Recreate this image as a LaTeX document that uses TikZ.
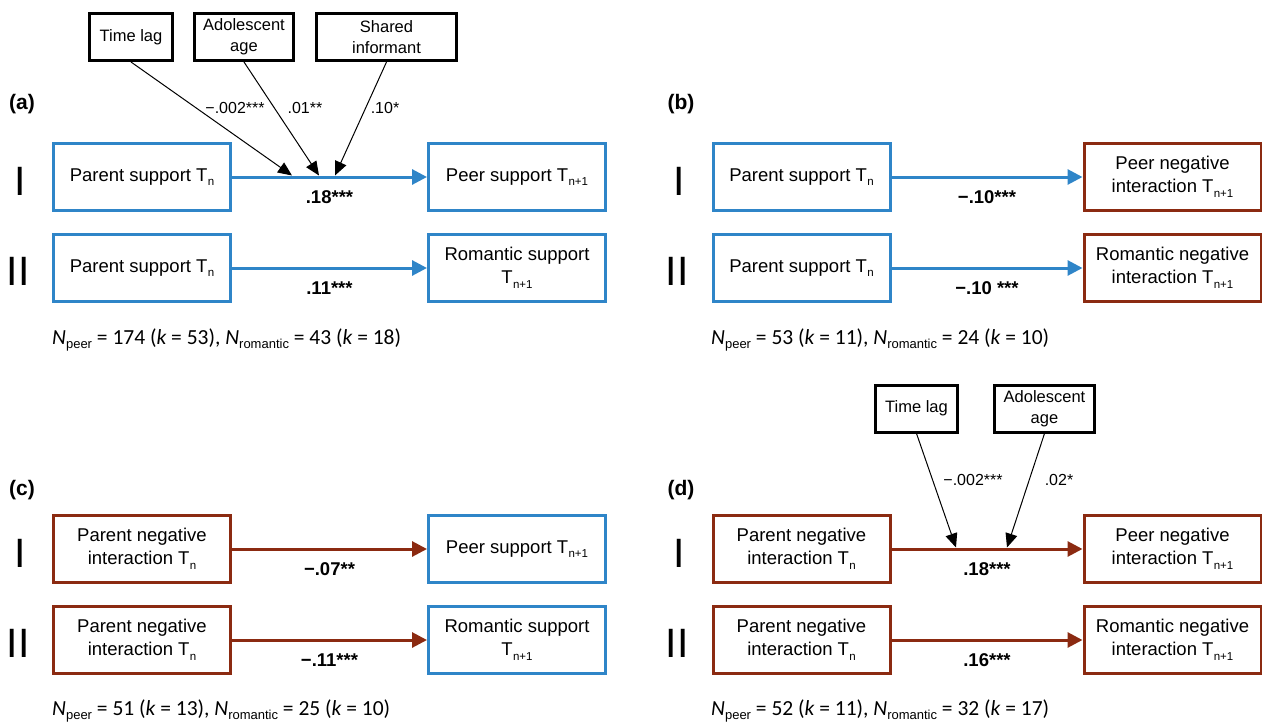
\documentclass[tikz,border=0pt]{standalone}
\usepackage{fontspec}
\setmainfont{Liberation Sans}
\newfontfamily\calfont{Carlito}
\usetikzlibrary{arrows.meta}
\definecolor{supblue}{RGB}{47,133,200}
\definecolor{negred}{RGB}{139,42,17}
\newcommand{\Tsub}[1]{T\kern0.3pt\raisebox{-4.5pt}{\fontsize{11.5}{11.5}\selectfont #1}}
\newcommand{\Nsub}[1]{{\itshape N}\raisebox{-4.5pt}{\rmfamily\fontsize{13}{13}\selectfont #1}}
\begin{document}
\begin{tikzpicture}[x=1pt,y=-1pt,
  box/.style={draw, line width=3pt, minimum width=177pt, minimum height=67pt, inner sep=0pt, align=center, font=\fontsize{18.5}{23}\selectfont},
  supbox/.style={box, draw=supblue},
  negbox/.style={box, draw=negred},
  modbox/.style={draw, line width=3pt, minimum height=47pt, inner sep=0pt, align=center, font=\fontsize{16.5}{21}\selectfont},
  suparrow/.style={draw=supblue, line width=3pt, -{Triangle[length=15pt,width=15pt]}},
  negarrow/.style={draw=negred, line width=3pt, -{Triangle[length=15pt,width=15pt]}},
  modarrow/.style={line width=1pt, -{Triangle[length=14pt,width=12pt]}},
  coef/.style={below=12pt, inner sep=0pt, font=\bfseries\fontsize{18.5}{20}\selectfont},
  modcoef/.style={inner sep=0pt, font=\fontsize{16}{18}\selectfont},
  panel/.style={inner sep=0pt, font=\bfseries\fontsize{21}{24}\selectfont},
  roman/.style={inner sep=0pt, font=\fontsize{41}{41}\selectfont},
  ntext/.style={anchor=west, inner sep=0pt, font=\calfont\fontsize{21.5}{24}\selectfont}]
\useasboundingbox (0,0) rectangle (1262,723);
\node[panel] (pa) at (22,104) {(a)};
\node[roman] (ia1) at (20,181) {I};
\node[roman] (ia2) at (18,271) {II};
\node[modbox, minimum width=83pt] (alag) at (131,37) {Time lag};
\node[modbox, minimum width=99pt] (aage) at (244,37) {Adolescent\\age};
\node[modbox, minimum width=140pt] (ainf) at (386.5,37) {Shared\\informant};
\node[supbox] (a1l) at (142,177) {Parent support \Tsub{n}};
\node[supbox] (a1r) at (517,177) {Peer support \Tsub{n+1}};
\node[supbox] (a2l) at (142,268) {Parent support \Tsub{n}};
\node[supbox] (a2r) at (517,268) {Romantic support\\\Tsub{n+1}};
\draw[suparrow] (a1l) -- node[coef] {.18***} (a1r);
\draw[suparrow] (a2l) -- node[coef] {.11***} (a2r);
\coordinate (a1t) at (292,175.5);
\coordinate (a1g) at (319,175.5);
\coordinate (a1i) at (335,175.5);
\draw[modarrow] (alag.south) -- (a1t);
\draw[modarrow] (aage.south) -- (a1g);
\draw[modarrow] (ainf.south) -- (a1i);
\node[modcoef] (calag) at (235,108) {−.002***};
\node[modcoef] (caage) at (305,108) {.01**};
\node[modcoef] (cainf) at (385,108) {.10*};
\node[ntext] (na) at (52,340) {\Nsub{peer} = 174 ({\itshape k} = 53), \Nsub{romantic} = 43 ({\itshape k} = 18)};
\node[panel] (pb) at (681,104) {(b)};
\node[roman] (ib1) at (679,181) {I};
\node[roman] (ib2) at (677,271) {II};
\node[supbox] (b1l) at (801.5,177) {Parent support \Tsub{n}};
\node[negbox] (b1r) at (1172.5,177) {Peer negative\\interaction \Tsub{n+1}};
\node[supbox] (b2l) at (801.5,268) {Parent support \Tsub{n}};
\node[negbox] (b2r) at (1172.5,268) {Romantic negative\\interaction \Tsub{n+1}};
\draw[suparrow] (b1l) -- node[coef] {−.10***} (b1r);
\draw[suparrow] (b2l) -- node[coef] {−.10 ***} (b2r);
\node[ntext] (nb) at (711,340) {\Nsub{peer} = 53 ({\itshape k} = 11), \Nsub{romantic} = 24 ({\itshape k} = 10)};
\node[panel] (pc) at (22,490) {(c)};
\node[roman] (ic1) at (20,553) {I};
\node[roman] (ic2) at (18,643) {II};
\node[negbox] (c1l) at (142,549) {Parent negative\\interaction \Tsub{n}};
\node[supbox] (c1r) at (517,549) {Peer support \Tsub{n+1}};
\node[negbox] (c2l) at (142,640) {Parent negative\\interaction \Tsub{n}};
\node[supbox] (c2r) at (517,640) {Romantic support\\\Tsub{n+1}};
\draw[negarrow] (c1l) -- node[coef] {−.07**} (c1r);
\draw[negarrow] (c2l) -- node[coef] {−.11***} (c2r);
\node[ntext] (nc) at (52,711) {\Nsub{peer} = 51 ({\itshape k} = 13), \Nsub{romantic} = 25 ({\itshape k} = 10)};
\node[panel] (pd) at (681,490) {(d)};
\node[roman] (id1) at (679,553) {I};
\node[roman] (id2) at (677,643) {II};
\node[modbox, minimum width=82.5pt] (dlag) at (916.5,408.5) {Time lag};
\node[modbox, minimum width=100pt] (dage) at (1044.5,408.5) {Adolescent\\age};
\node[negbox] (d1l) at (801.5,549) {Parent negative\\interaction \Tsub{n}};
\node[negbox] (d1r) at (1172.5,549) {Peer negative\\interaction \Tsub{n+1}};
\node[negbox] (d2l) at (801.5,640) {Parent negative\\interaction \Tsub{n}};
\node[negbox] (d2r) at (1172.5,640) {Romantic negative\\interaction \Tsub{n+1}};
\draw[negarrow] (d1l) -- node[coef] {.18***} (d1r);
\draw[negarrow] (d2l) -- node[coef] {.16***} (d2r);
\coordinate (d1t) at (956,547.5);
\coordinate (d1g) at (1007,547.5);
\draw[modarrow] (dlag.south) -- (d1t);
\draw[modarrow] (dage.south) -- (d1g);
\node[modcoef] (cdlag) at (973,480) {−.002***};
\node[modcoef] (cdage) at (1059,480) {.02*};
\node[ntext] (nd) at (711,711) {\Nsub{peer} = 52 ({\itshape k} = 11), \Nsub{romantic} = 32 ({\itshape k} = 17)};
\end{tikzpicture}
\end{document}
